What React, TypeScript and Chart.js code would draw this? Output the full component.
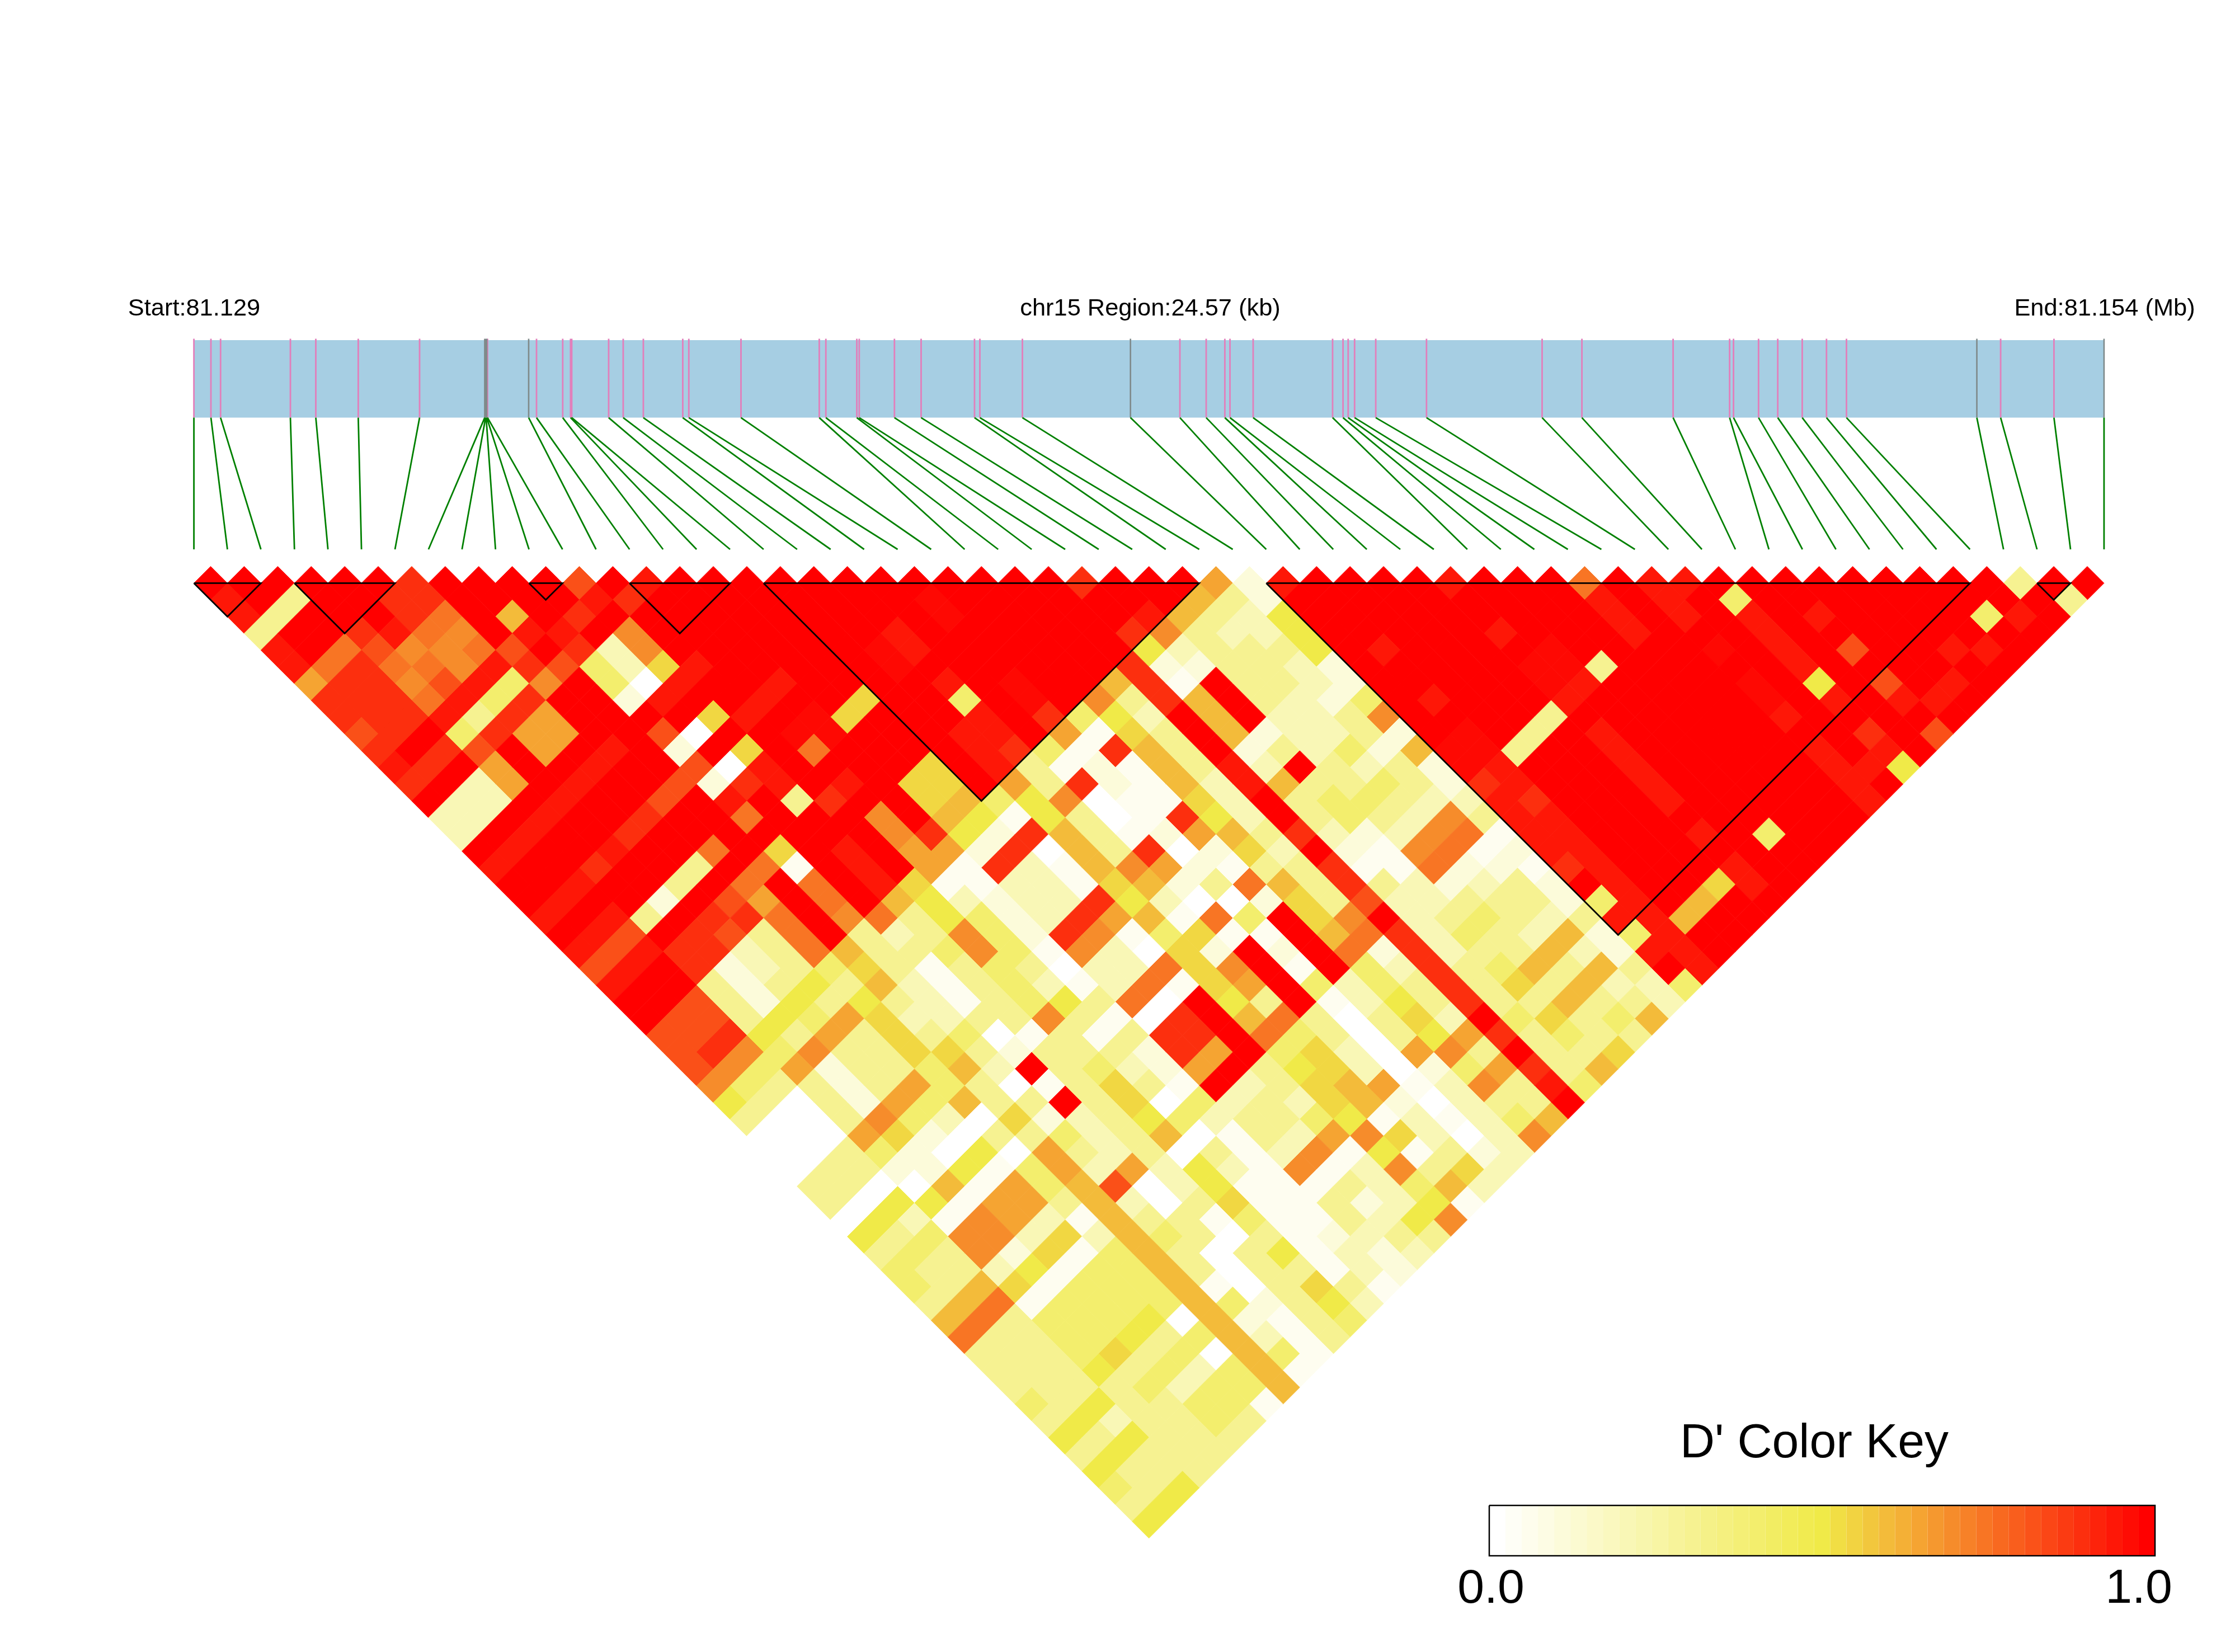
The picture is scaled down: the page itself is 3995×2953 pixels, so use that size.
import React, { useEffect, useRef } from "react";
import { Chart, registerables } from "chart.js";

Chart.register(...registerables);

// SNP positions along the region, kb from the start (24.57 kb in all)
const snpKb = [
  0, 0.219, 0.343, 1.241, 1.568, 2.114, 2.903, 3.741, 3.752, 3.759, 3.767, 3.777, 4.306, 4.407, 4.744, 4.845, 4.86,
  5.335, 5.522, 5.781, 6.288, 6.366, 7.037, 8.044, 8.129, 8.527, 8.558, 9.011, 9.354, 10.041, 10.11, 10.657, 12.047,
  12.683, 13.021, 13.261, 13.327, 13.625, 14.647, 14.781, 14.847, 14.93, 15.202, 15.855, 17.342, 17.854, 19.027,
  19.754, 19.804, 20.126, 20.373, 20.688, 21.0, 21.257, 22.934, 23.24, 23.926, 24.57,
];
const regionKb = 24.57;
const greySnps = [7, 8, 9, 10, 12, 32, 54, 57];

// LD blocks: first and last SNP of each block
const blockStart = [0, 3, 10, 13, 17, 32, 55];
const blockEnd = [2, 6, 11, 16, 30, 53, 56];

// D' levels used by the band strings below
const levelChars = "0123456789ABCDEfF";
const levelValues = [0, 0.04, 0.1, 0.2, 0.3, 0.4, 0.5, 0.54, 0.6, 0.65, 0.7, 0.75, 0.83, 0.9, 0.95, 0.98, 1];

// D' per SNP distance: bands[d - 1] holds pairs (i, i + d), i ascending
const bands = [
  "FFFFFFDFFF FCFEFFFFFF FFFFFFDFFF 92EFFFFEFF FBFEEFFFFF FFFF4FF",
  "EF4FFDDFFF FEDFFFFFFF FfFFFFFFF8 42FFFFFFFF FEFEF5FFFF FFFFF4",
  "E4FFFDBF8F DFFFFFFFFF FfFFFFFE84 36FFFFFFFF FEFEFEFEFF FF5EF",
  "4FFDEBAFEE FAFFFFFFFE FFFFFFDA43 36FFFFFEFF FEFFFEFFFF FFFF",
  "EFBCAABCFD 3AFFFFFFfE FFFFFF6344 46FEFFFFfF FFFfFEFCFF EEF",
  "EBDBBAEDC5 37EFFFFFfF FFFFFD2244 32FFFFFff4 FFFFFEFFFF FF",
  "9DDACE5AF5 0EFFEFFFFE FfFF8D1F44 32FFFFFfEF FFFfF6FCFE F",
  "DDDBE5DFF2 EFFEFF7FF5 FfFA4D8F43 25FEFFFEFF FFFfFEFEEF",
  "DDDE4D9FFF F7EFf7FFFE FD563F8F33 4AFFFF4FFF FFFEFFFFF",
  "CDF5D99FFC 0FFffFFFEE F9174F8233 42FfF4FEFF FFFFFDFC",
  "DFDCF9FEF2 F7FBFFFFED 51D84F2435 28ff4FFEFF FFFEFEF",
  "EDF9FFEFFC 0EFFFF7FE4 12184E3F43 42fEFFFEFF FFFEE6",
  "DF39FEFFC2 DEFEF77F94 D2183E8445 42DEFFFEFF FFFEF",
  "F33FEFFCFE F4DFF7856A 01173F4554 33EDFFFEFF FFFE",
  "33FEFFDFFB FFFAF86164 01D63F4543 A4EEFFFFFF FFF",
  "3FEFFDFFFF FFFAD62D84 12984D323A B1EEFFFEF5 FF",
  "FEFFEFFBF7 FEF992D084 D0273F21AB 12EEFFFFFF F",
  "EFFDFF4FB1 FEF91D318A 92144D11B2 21DEFFFEFF",
  "FFEFF4FBFB FE71133178 24B84D4323 42FEFF7EF",
  "FEFF2FC9FB F863233D63 00274C3344 425EF8FF",
  "EFE4FDDBFA B46523D981 B5F7AF3454 34EE8FF",
  "FECFDC4BF4 34A52DA157 11F8BD3543 825EFF",
  "ECEDD34B84 45A51A3072 F2FB2D3448 32EEF",
  "CEFD234574 1454033B7A F1F53D4584 84FE",
  "EFF4246483 145313B179 F5354D4748 335",
  "FFC4264643 14564B0F64 F1364D4484 43",
  "FCC4659733 44A410DF8B 40473F5745 8",
  "CCD6494745 01414DDFB5 40469D4544",
  "CDA5A44774 24442D9F57 309A4F447",
  "CA59244583 F45329F467 30259D48",
  "A544249540 14741F3478 913A4E5",
  "6404295844 F470534378 20344F",
  "4004A53072 3465344561 31358",
  "0009720445 34801439A7 303A",
  "0045206094 340413A161 423",
  "0442261593 93631A13A4 73",
  "440081958C 0361114358 3",
  "4066199483 0471142361",
  "0631A93184 41511436A",
  "645AA37385 40412344",
  "454A271584 0461323",
  "5443615584 044132",
  "5487155581 04741",
  "48B1555585 2463",
  "8B45556082 145",
  "B445564583 14",
  "4445745085 1",
  "4446453581",
  "444453558",
  "54644551",
  "4634454",
  "646444",
  "46444",
  "6444",
  "546",
  "46",
  "6",
];

const keySteps = Array.from({ length: 42 }, (_, k) => k / 41);

// Page geometry: a horizontal unit is one SNP slot, a vertical unit one band
const X0 = 346.6;
const UNIT_X = 59.9;
const Y1 = 1042.4;
const UNIT_Y = 29.95;
const W = 3995;
const H = 2953;
const xUnit = (px: number) => (px - X0) / UNIT_X;
const yUnit = (py: number) => (py - Y1) / UNIT_Y + 1;

function ramp(v: number) {
  const mix = (a: number[], b: number[], t: number) => a.map((c, n) => Math.round(c + (b[n] - c) * t));
  const white = [255, 255, 255];
  const yellow = [240, 234, 72];
  const red = [255, 0, 0];
  const c = v <= 0.5 ? mix(white, yellow, v / 0.5) : mix(yellow, red, (v - 0.5) / 0.5);
  return `rgb(${c[0]},${c[1]},${c[2]})`;
}

export default function App() {
  const ref = useRef<HTMLCanvasElement | null>(null);

  useEffect(() => {
    document.body.style.margin = "0";
    const cells: { x: number; y: number }[] = [];
    const cellColors: string[] = [];
    bands.forEach((band, b) => {
      const d = b + 1;
      band
        .replace(/\s/g, "")
        .split("")
        .forEach((ch, i) => {
          cells.push({ x: i + d / 2, y: d });
          cellColors.push(ramp(levelValues[levelChars.indexOf(ch)]));
        });
    });

    const gap = { x: NaN, y: NaN };
    const barTop = yUnit(608);
    const barBottom = yUnit(746.6);
    const linkBottom = yUnit(982);
    const genomeX = (kb: number) => (kb / regionKb) * (snpKb.length - 1);

    const green: any[] = [];
    const pink: any[] = [];
    const grey: any[] = [];
    snpKb.forEach((kb, i) => {
      const gx = genomeX(kb);
      green.push({ x: gx, y: barBottom }, { x: i, y: linkBottom }, gap);
      (greySnps.includes(i) ? grey : pink).push({ x: gx, y: barTop - 0.08 }, { x: gx, y: barBottom }, gap);
    });

    const blockLines: any[] = [];
    blockStart.forEach((s, n) => {
      const e = blockEnd[n];
      blockLines.push({ x: s, y: 1 }, { x: e, y: 1 }, { x: (s + e) / 2, y: 1 + (e - s) }, { x: s, y: 1 }, gap);
    });

    const keyLeft = xUnit(2662);
    const keyRight = xUnit(3852);
    const keyTop = yUnit(2691);
    const keyBottom = yUnit(2781);
    const keyX = (t: number) => keyLeft + (keyRight - keyLeft) * t;
    const keyData = keySteps.map((t) => ({ x: keyX(t), y: (keyTop + keyBottom) / 2 }));

    const line = (data: any[], color: string, width: number, order: number) => ({
      type: "scatter" as const,
      data,
      showLine: true,
      borderColor: color,
      borderWidth: width,
      pointRadius: 0,
      pointHoverRadius: 0,
      fill: false,
      order,
      spanGaps: false,
      tension: 0,
    });

    const textPlugin = {
      id: "texts",
      afterDraw(chart: any) {
        const c = chart.ctx;
        c.save();
        c.fillStyle = "#000";
        c.textAlign = "center";
        c.textBaseline = "alphabetic";
        c.font = '43.4px "Liberation Sans"';
        c.fillText("Start:81.129", 347, 564);
        c.fillText("chr15 Region:24.57 (kb)", 2056, 564);
        c.fillText("End:81.154 (Mb)", 3762, 564);
        c.font = '86px "Liberation Sans"';
        c.fillText("D' Color Key", 3243, 2605);
        c.fillText("0.0", 2665, 2865);
        c.fillText("1.0", 3823, 2865);
        c.restore();
      },
    };

    const chart = new Chart(ref.current as HTMLCanvasElement, {
      type: "scatter",
      data: {
        datasets: [
          line(blockLines, "#000000", 2.8, 0),
          {
            type: "scatter",
            data: cells,
            pointStyle: "rectRot",
            pointRadius: UNIT_X / 2,
            pointHoverRadius: UNIT_X / 2,
            pointBorderWidth: 1,
            pointBorderColor: cellColors,
            pointBackgroundColor: cellColors,
            backgroundColor: cellColors,
            order: 1,
          },
          line(green, "#008000", 2.8, 2),
          line(grey, "#7f8a8a", 2.6, 3),
          line(pink, "#e27fbb", 2.8, 4),
          {
            ...line(
              [
                { x: 0, y: barTop },
                { x: snpKb.length - 1, y: barTop },
              ],
              "#a6cee3",
              0,
              5,
            ),
            fill: { value: barBottom },
            backgroundColor: "#a6cee3",
          },
          line(
            [
              { x: keyLeft, y: keyTop },
              { x: keyRight, y: keyTop },
              { x: keyRight, y: keyBottom },
              { x: keyLeft, y: keyBottom },
              { x: keyLeft, y: keyTop },
            ],
            "#000000",
            2.5,
            6,
          ),
          {
            ...line(keyData, "#ffffff", 90, 7),
            borderCapStyle: "butt",
            segment: {
              borderColor: (ctx: any) => ramp(keySteps[ctx.p0DataIndex] * (41 / 40)),
            },
          },
        ] as any,
      },
      options: {
        animation: false,
        responsive: false,
        events: [],
        layout: { padding: 0, autoPadding: false },
        plugins: { legend: { display: false }, title: { display: false }, tooltip: { enabled: false } },
        scales: {
          x: { type: "linear", display: false, min: xUnit(0), max: xUnit(W) },
          y: { type: "linear", display: false, reverse: true, min: yUnit(0), max: yUnit(H) },
        },
      },
      plugins: [textPlugin],
    });
    return () => chart.destroy();
  }, []);

  return <canvas ref={ref} width={W} height={H} style={{ display: "block", width: W, height: H }} />;
}
